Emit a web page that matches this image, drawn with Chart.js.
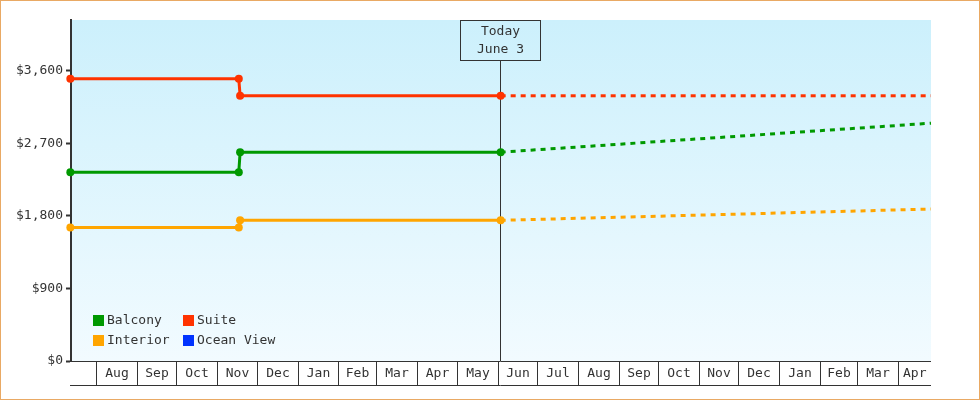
<!DOCTYPE html>
<html>
<head>
<meta charset="utf-8">
<script src="https://cdn.jsdelivr.net/npm/chart.js@4/dist/chart.umd.min.js"></script>
<style>
  html, body { margin: 0; padding: 0; background: #fff; }
  #wrap { width: 980px; height: 400px; }
</style>
</head>
<body>
<div id="wrap"><canvas id="fareChart" width="980" height="400"></canvas></div>
<script>
        const axisStart = '2023-07-12T12:00';
        const axisEnd = '2025-04-26';
        const todayDate = '2024-06-03';
        const todayLines = ['Today', 'June 3'];

        const seriesNames = ['Balcony', 'Suite', 'Interior', 'Ocean View'];
        const seriesColors = ['#009900', '#ff3300', '#ffa500', '#0033ff'];

        // price history up to today
        const historyDates = ['2023-07-12', '2023-11-17', '2023-11-18', '2024-06-03'];
        const balconyHistory = [2340, 2340, 2590, 2590];
        const suiteHistory = [3500, 3500, 3290, 3290];
        const interiorHistory = [1655, 1655, 1745, 1745];
        const oceanViewHistory = [];

        // projected prices after today
        const projectionDates = ['2024-06-03', '2025-04-26'];
        const balconyProjection = [2590, 2950];
        const suiteProjection = [3290, 3290];
        const interiorProjection = [1745, 1885];
        const oceanViewProjection = [];

        const monthStarts = ['2023-08-01', '2023-09-01', '2023-10-01', '2023-11-01', '2023-12-01',
            '2024-01-01', '2024-02-01', '2024-03-01', '2024-04-01', '2024-05-01', '2024-06-01',
            '2024-07-01', '2024-08-01', '2024-09-01', '2024-10-01', '2024-11-01', '2024-12-01',
            '2025-01-01', '2025-02-01', '2025-03-01', '2025-04-01'];
        const monthLabels = ['Aug', 'Sep', 'Oct', 'Nov', 'Dec', 'Jan', 'Feb', 'Mar', 'Apr', 'May', 'Jun',
            'Jul', 'Aug', 'Sep', 'Oct', 'Nov', 'Dec', 'Jan', 'Feb', 'Mar', 'Apr'];
        const yTicks = [0, 900, 1800, 2700, 3600];
        const yMax = 4230;

        const FONT = 'DejaVu Sans Mono';
        const INK = '#333333';

        // days since 2023-07-12, used as the x value
        function day(s) {
            const iso = s.length > 10 ? s + ':00Z' : s + 'T00:00:00Z';
            return (Date.parse(iso) - Date.parse('2023-07-12T00:00:00Z')) / 86400000;
        }

        function points(dates, values) {
            return values.map((v, i) => ({ x: day(dates[i]), y: v }));
        }

        const histories = [balconyHistory, suiteHistory, interiorHistory, oceanViewHistory];
        const projections = [balconyProjection, suiteProjection, interiorProjection, oceanViewProjection];

        const datasets = [];
        seriesNames.forEach((name, i) => {
            datasets.push({
                label: name,
                data: points(historyDates, histories[i]),
                borderColor: seriesColors[i],
                backgroundColor: seriesColors[i],
                borderWidth: 3,
                pointRadius: 4,
                pointHoverRadius: 4,
                pointBorderWidth: 0,
                tension: 0,
                fill: false,
                clip: false
            });
        });
        seriesNames.forEach((name, i) => {
            datasets.push({
                label: name + ' projection',
                data: points(projectionDates, projections[i]),
                borderColor: seriesColors[i],
                borderWidth: 3,
                borderDash: [5, 5],
                pointRadius: 0,
                tension: 0,
                fill: false,
                clip: false
            });
        });

        const decorations = {
            id: 'decorations',
            beforeDraw(chart) {
                const { ctx, chartArea: a } = chart;
                ctx.save();
                ctx.fillStyle = '#ffffff';
                ctx.fillRect(0, 0, chart.width, chart.height);
                const g = ctx.createLinearGradient(0, a.top, 0, a.bottom);
                g.addColorStop(0, '#ccf0fc');
                g.addColorStop(1, '#f2fbff');
                ctx.fillStyle = g;
                ctx.fillRect(a.left, a.top, a.right - a.left, a.bottom - a.top);
                ctx.restore();
            },
            beforeDatasetsDraw(chart) {
                const { ctx, chartArea: a, scales } = chart;
                const tx = Math.floor(scales.x.getPixelForValue(day(todayDate))) + 0.5;
                ctx.save();
                ctx.strokeStyle = INK;
                ctx.lineWidth = 1;
                ctx.beginPath();
                ctx.moveTo(tx, 60.5);
                ctx.lineTo(tx, a.bottom);
                ctx.stroke();
                ctx.strokeRect(tx - 40, a.top + 0.5, 80, 40);
                ctx.fillStyle = INK;
                ctx.font = '13px "' + FONT + '"';
                ctx.textAlign = 'center';
                ctx.textBaseline = 'middle';
                ctx.fillText(todayLines[0], tx, 32);
                ctx.fillText(todayLines[1], tx, 50);
                ctx.restore();
            },
            afterDraw(chart) {
                const { ctx, chartArea: a, scales } = chart;
                ctx.save();
                // month boxes under the plot
                ctx.strokeStyle = INK;
                ctx.lineWidth = 1;
                ctx.beginPath();
                ctx.moveTo(a.left - 1, 361.5);
                ctx.lineTo(a.right, 361.5);
                ctx.moveTo(a.left - 1, 385.5);
                ctx.lineTo(a.right, 385.5);
                const xs = monthStarts.map(m => Math.floor(scales.x.getPixelForValue(day(m))) + 0.5);
                xs.forEach(x => {
                    ctx.moveTo(x, 361);
                    ctx.lineTo(x, 385);
                });
                ctx.stroke();
                ctx.fillStyle = INK;
                ctx.font = '13px "' + FONT + '"';
                ctx.textAlign = 'center';
                ctx.textBaseline = 'middle';
                monthLabels.forEach((lab, i) => {
                    const x0 = xs[i];
                    const x1 = i + 1 < xs.length ? xs[i + 1] : a.right;
                    ctx.fillText(lab, (x0 + x1) / 2, 374);
                });

                // legend in two columns
                ctx.textAlign = 'left';
                const cols = [93, 183];
                const rows = [315, 335];
                seriesNames.forEach((name, i) => {
                    const x = cols[i % 2];
                    const y = rows[Math.floor(i / 2)];
                    ctx.fillStyle = seriesColors[i];
                    ctx.fillRect(x, y, 11, 11);
                    ctx.fillStyle = INK;
                    ctx.fillText(name, x + 14, y + 6);
                });

                // outer frame
                ctx.strokeStyle = '#e9a964';
                ctx.strokeRect(0.5, 0.5, chart.width - 1, chart.height - 1);
                ctx.restore();
            }
        };

        const chart = new Chart(document.getElementById('fareChart'), {
            type: 'line',
            data: { datasets },
            options: {
                responsive: false,
                animation: false,
                events: [],
                layout: { padding: { top: 20, right: 49, bottom: 39, left: 0 } },
                plugins: {
                    legend: { display: false },
                    tooltip: { enabled: false }
                },
                scales: {
                    x: {
                        type: 'linear',
                        min: day(axisStart),
                        max: day(axisEnd),
                        display: false
                    },
                    y: {
                        min: 0,
                        max: yMax,
                        afterBuildTicks: s => { s.ticks = yTicks.map(v => ({ value: v })); },
                        afterFit: s => { s.width = 71; },
                        grid: {
                            drawOnChartArea: false,
                            drawTicks: true,
                            tickLength: 5,
                            tickWidth: 2,
                            tickColor: INK,
                            color: INK
                        },
                        border: { display: true, color: INK, width: 2 },
                        ticks: {
                            color: INK,
                            padding: 3,
                            font: { family: FONT, size: 13 },
                            callback: v => '$' + Number(v).toLocaleString('en-US')
                        }
                    }
                }
            },
            plugins: [decorations]
        });
</script>
</body>
</html>
